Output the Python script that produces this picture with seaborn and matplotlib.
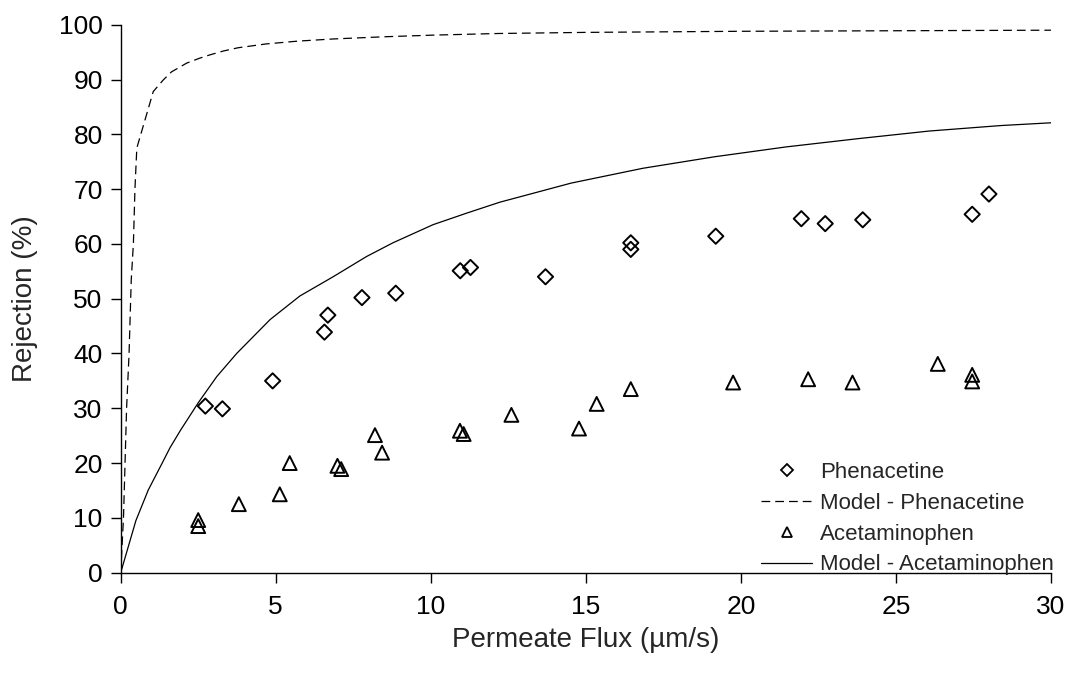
import numpy as np
import pandas as pd
import matplotlib
matplotlib.use("Agg")
import matplotlib.pyplot as plt
import seaborn as sns
from matplotlib.lines import Line2D

# ---- data ----
phen_flux = [2.73, 3.28, 4.90, 6.57, 6.68, 7.78, 8.87, 10.95, 11.28, 13.70,
             16.45, 16.45, 19.19, 21.95, 22.72, 23.93, 27.46, 28.00]
phen_rej = [30.4, 29.9, 35.0, 43.9, 47.0, 50.2, 51.0, 55.1, 55.7, 54.0,
            60.2, 59.0, 61.4, 64.6, 63.7, 64.4, 65.4, 69.1]

acet_flux = [2.50, 2.50, 3.81, 5.13, 5.45, 6.99, 7.11, 8.20, 8.43, 10.94,
             11.06, 12.60, 14.78, 15.35, 16.45, 19.75, 22.17, 23.60, 26.35,
             27.46, 27.46]
acet_rej = [9.6, 8.5, 12.5, 14.3, 20.0, 19.5, 18.9, 25.1, 21.9, 25.9,
            25.3, 28.8, 26.3, 30.8, 33.5, 34.7, 35.3, 34.7, 38.1, 36.1, 34.9]

model_phen_flux = [0, 0.09, 0.14, 0.19, 0.27, 0.34, 0.41, 0.46, 0.52, 1.05,
                   1.37, 1.64, 2.13, 2.55, 2.88, 3.31, 3.79, 4.7, 5.7, 6.85,
                   8.5, 10.07, 12.2, 15, 20, 25, 30]
model_phen_rej = [0, 10, 20, 30, 40, 53.4, 60.1, 70.1, 77.5, 87.8,
                  89.9, 91.4, 93.0, 93.9, 94.5, 95.2, 95.8, 96.5, 97.0, 97.4,
                  97.8, 98.1, 98.4, 98.6, 98.8, 98.9, 99.0]

model_acet_flux = [0, 0.49, 0.89, 1.32, 1.59, 1.93, 2.5, 3.1, 3.74, 4.82,
                   5.78, 6.85, 7.93, 8.78, 10.07, 11.15, 12.22, 14.53, 16.84,
                   19.15, 21.46, 23.77, 26.08, 28.39, 30]
model_acet_rej = [0, 9.5, 15.1, 19.8, 22.8, 26.0, 31.0, 35.8, 40.0, 46.2,
                  50.5, 54.0, 57.7, 60.2, 63.5, 65.6, 67.6, 71.1, 73.8,
                  75.9, 77.7, 79.2, 80.6, 81.6, 82.1]

x_ticks = [0, 5, 10, 15, 20, 25, 30]
y_ticks = [0, 10, 20, 30, 40, 50, 60, 70, 80, 90, 100]

labels = ["Phenacetine", "Model - Phenacetine", "Acetaminophen",
          "Model - Acetaminophen"]

# ---- style ----
sns.set_style("ticks")
plt.rcParams['font.family'] = ['Liberation Sans', 'DejaVu Sans']

fig = plt.figure(figsize=(10.7, 6.79), dpi=100)
ax = fig.add_axes([0.1128, 0.1566, 0.8694, 0.8070])

df_p = pd.DataFrame({"x": phen_flux, "y": phen_rej})
df_a = pd.DataFrame({"x": acet_flux, "y": acet_rej})
df_mp = pd.DataFrame({"x": model_phen_flux, "y": model_phen_rej})
df_ma = pd.DataFrame({"x": model_acet_flux, "y": model_acet_rej})

sns.lineplot(data=df_mp, x="x", y="y", ax=ax, color="black", lw=0.9,
             sort=False, estimator=None)
ax.lines[-1].set_dashes((7, 4))
sns.lineplot(data=df_ma, x="x", y="y", ax=ax, color="black", lw=0.9,
             sort=False, estimator=None)
sns.scatterplot(data=df_p, x="x", y="y", ax=ax, marker="D", s=60,
                facecolor="none", edgecolor="black", linewidth=1.4, zorder=3)
sns.scatterplot(data=df_a, x="x", y="y", ax=ax, marker="^", s=100,
                facecolor="none", edgecolor="black", linewidth=1.4, zorder=3)

ax.set_xlim(0, 30)
ax.set_ylim(0, 100)
ax.set_xticks(x_ticks)
ax.set_yticks(y_ticks)
ax.tick_params(direction="out", length=7, width=1, labelsize=19, pad=6,
               colors="black")
ax.tick_params(axis="x", pad=9)
for s in ["top", "right"]:
    ax.spines[s].set_visible(False)
for s in ["left", "bottom"]:
    ax.spines[s].set_linewidth(1)
    ax.spines[s].set_color("black")

ax.set_xlabel("Permeate Flux (µm/s)", fontsize=20, labelpad=6)
ax.set_ylabel("Rejection (%)", fontsize=20, labelpad=15)

handles = [
    Line2D([], [], ls="none", marker="D", mfc="none", mec="black", ms=6.5, mew=1.3),
    Line2D([], [], color="black", lw=0.9, dashes=(7, 4)),
    Line2D([], [], ls="none", marker="^", mfc="none", mec="black", ms=7.5, mew=1.3),
    Line2D([], [], color="black", lw=0.9),
]
ax.legend(handles, labels, loc="lower right", bbox_to_anchor=(1.003, -0.005),
          frameon=False, fontsize=16, handlelength=2.3, handletextpad=0.35,
          labelspacing=0.44, borderpad=0, borderaxespad=0)

fig.savefig("out.png", dpi=100)
